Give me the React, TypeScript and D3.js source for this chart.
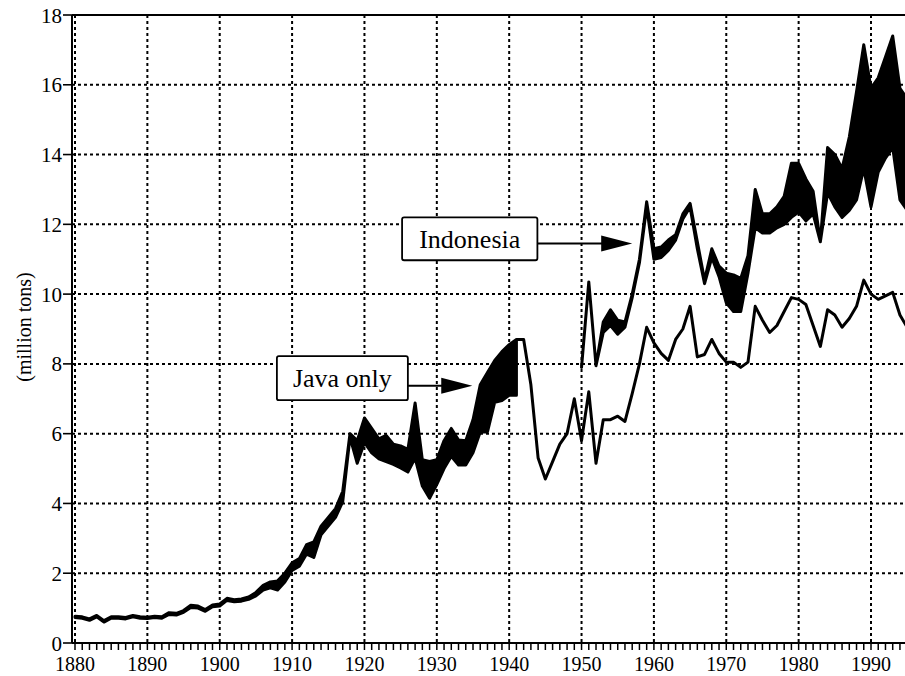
import React from "react";
import * as d3 from "d3";

// Java only: low / high estimates, 1880-1941
const javaBandStart = 1880;
const javaHigh = [
  0.77, 0.75, 0.69, 0.79, 0.64, 0.75, 0.75, 0.73, 0.79, 0.75,
  0.74, 0.77, 0.75, 0.87, 0.85, 0.93, 1.08, 1.06, 0.96, 1.09,
  1.12, 1.28, 1.24, 1.26, 1.32, 1.45, 1.65, 1.75, 1.78, 2.0,
  2.3, 2.42, 2.82, 2.9, 3.35, 3.6, 3.85, 4.35, 6.0, 5.8,
  6.45, 6.15, 5.85, 5.95, 5.7, 5.65, 5.55, 6.88, 5.25, 5.2,
  5.25, 5.8, 6.15, 5.82, 5.8, 6.4, 7.4, 7.75, 8.1, 8.35,
  8.55, 8.7,
];
const javaLow = [
  0.73, 0.71, 0.65, 0.75, 0.6, 0.71, 0.71, 0.69, 0.75, 0.71,
  0.7, 0.73, 0.71, 0.82, 0.8, 0.88, 1.02, 1.0, 0.91, 1.04,
  1.06, 1.22, 1.18, 1.2, 1.25, 1.35, 1.52, 1.58, 1.52, 1.75,
  2.08, 2.2, 2.55, 2.45, 3.1, 3.35, 3.6, 4.05, 5.9, 5.15,
  5.75, 5.45, 5.28, 5.2, 5.12, 5.02, 4.9, 5.3, 4.5, 4.15,
  4.55, 5.0, 5.35, 5.1, 5.1, 5.45, 6.05, 6.05, 6.9, 6.95,
  7.1, 7.1,
];

// Java only: single series, 1941-1995
const javaLineStart = 1941;
const javaLine = [
  8.7, 8.7, 7.4, 5.3, 4.7, 5.2, 5.7, 6.0, 7.0,
  5.8, 7.2, 5.15, 6.4, 6.4, 6.5, 6.35, 7.15, 8.0, 9.05,
  8.6, 8.3, 8.1, 8.7, 9.0, 9.65, 8.2, 8.27, 8.7, 8.3,
  8.05, 8.05, 7.9, 8.05, 9.65, 9.25, 8.9, 9.1, 9.5, 9.9,
  9.85, 9.7, 9.1, 8.5, 9.55, 9.4, 9.05, 9.3, 9.65, 10.4,
  10.0, 9.85, 9.95, 10.05, 9.4, 9.05,
];

// Indonesia: low / high estimates, 1950-1995
const indoStart = 1950;
const indoHigh = [
  7.9, 10.35, 7.95, 9.2, 9.55, 9.25, 9.2, 10.0, 11.0, 12.65,
  11.3, 11.35, 11.55, 11.7, 12.3, 12.6, 11.5, 10.4, 11.3, 10.8,
  10.6, 10.55, 10.45, 11.1, 13.0, 12.3, 12.3, 12.5, 12.8, 13.75,
  13.75, 13.3, 12.95, 11.5, 14.2, 14.0, 13.6, 14.5, 15.8, 17.15,
  15.9, 16.2, 16.8, 17.4, 15.9, 15.6,
];
const indoLow = [
  7.9, 10.35, 7.95, 8.9, 9.1, 8.85, 9.05, 9.9, 10.9, 12.5,
  11.0, 11.05, 11.25, 11.55, 12.15, 12.5, 11.3, 10.3, 11.05, 10.5,
  9.75, 9.5, 9.5, 10.6, 11.9, 11.75, 11.75, 11.9, 12.0, 12.2,
  12.35, 12.1, 12.3, 11.5, 12.9, 12.5, 12.2, 12.4, 12.7, 13.6,
  12.5, 13.5, 13.9, 14.2, 12.7, 12.4,
];

const yTicks = [0, 2, 4, 6, 8, 10, 12, 14, 16, 18];
const xTicks = [1880, 1890, 1900, 1910, 1920, 1930, 1940, 1950, 1960, 1970, 1980, 1990];
const yLabel = "(million tons)";

// label boxes in data coordinates: [year left, year right, top, bottom], arrow [year tip, value]
const notes = [
  { text: "Indonesia", x0: 1925.2, x1: 1943.9, top: 12.2, bottom: 10.97, tip: 1957.0, at: 11.45 },
  { text: "Java only", x0: 1907.9, x1: 1926.0, top: 8.22, bottom: 6.96, tip: 1934.9, at: 7.37 },
];

const W = 905;
const H = 676;
const font = "'Liberation Serif', 'Times New Roman', serif";

export default function App() {
  const x = d3.scaleLinear().domain([1880, 1990]).range([75, 871]);
  const y = d3.scaleLinear().domain([0, 18]).range([643, 15]);
  const left = 72;
  const right = W;

  const band = d3
    .area<[number, number, number]>()
    .x((d) => x(d[0]))
    .y0((d) => y(d[1]))
    .y1((d) => y(d[2]));
  const line = d3
    .line<[number, number]>()
    .x((d) => x(d[0]))
    .y((d) => y(d[1]));

  const javaBand = javaHigh.map((v, i) => [javaBandStart + i, javaLow[i], v] as [number, number, number]);
  const indoBand = indoHigh.map((v, i) => [indoStart + i, indoLow[i], v] as [number, number, number]);
  const javaPts = javaLine.map((v, i) => [javaLineStart + i, v] as [number, number]);

  const minor = d3.range(1880, 1996);
  const grid = { stroke: "#000", strokeWidth: 2, strokeDasharray: "3 3" };

  return (
    <svg
      width={W}
      height={H}
      style={{ position: "absolute", left: 0, top: 0, background: "#fff" }}
    >
      <defs>
        <clipPath id="plot">
          <rect x={left} y={0} width={right - left} height={H} />
        </clipPath>
      </defs>

      {/* grid */}
      {xTicks.map((t) => (
        <line key={"gx" + t} x1={x(t)} x2={x(t)} y1={y(18)} y2={y(0)} {...grid} />
      ))}
      {yTicks.filter((t) => t > 0 && t < 18).map((t) => (
        <line key={"gy" + t} x1={left} x2={right} y1={y(t)} y2={y(t)} {...grid} />
      ))}

      {/* data */}
      <g clipPath="url(#plot)">
        <path d={band(javaBand) || ""} fill="#000" stroke="#000" strokeWidth={3} strokeLinejoin="round" />
        <path d={line(javaPts) || ""} fill="none" stroke="#000" strokeWidth={3} strokeLinejoin="round" />
        <path d={band(indoBand) || ""} fill="#000" stroke="#000" strokeWidth={3} strokeLinejoin="round" />
      </g>

      {/* axes */}
      <line x1={left} x2={right} y1={y(18)} y2={y(18)} stroke="#000" strokeWidth={2} />
      <line x1={left} x2={left} y1={y(18)} y2={y(0)} stroke="#000" strokeWidth={2} />
      <line x1={left} x2={right} y1={y(0)} y2={y(0)} stroke="#000" strokeWidth={2} />
      {yTicks.map((t) => (
        <g key={"yt" + t}>
          <line x1={left - 9} x2={left} y1={y(t)} y2={y(t)} stroke="#000" strokeWidth={1.6} />
          <text x={left - 10} y={y(t)} dy="0.36em" textAnchor="end" fontFamily={font} fontSize={21}>
            {t}
          </text>
        </g>
      ))}
      {minor.map((t) => (
        <line key={"mt" + t} x1={x(t)} x2={x(t)} y1={y(0)} y2={y(0) + 7} stroke="#000" strokeWidth={1.5} />
      ))}
      {xTicks.map((t) => (
        <text key={"xl" + t} x={x(t)} y={671} textAnchor="middle" fontFamily={font} fontSize={20}>
          {t}
        </text>
      ))}
      <text
        transform={`translate(31,327) rotate(-90)`}
        textAnchor="middle"
        fontFamily={font}
        fontSize={20}
      >
        {yLabel}
      </text>

      {/* labels with arrows */}
      {notes.map((n) => {
        const bx = x(n.x0);
        const bw = x(n.x1) - x(n.x0);
        const by = y(n.top);
        const bh = y(n.bottom) - y(n.top);
        const ay = y(n.at);
        const tip = x(n.tip);
        return (
          <g key={n.text}>
            <line x1={bx + bw} x2={tip - 30} y1={ay} y2={ay} stroke="#000" strokeWidth={2} />
            <path d={`M${tip - 31},${ay - 8}L${tip},${ay}L${tip - 31},${ay + 8}Z`} fill="#000" />
            <rect x={bx} y={by} width={bw} height={bh} rx={2} fill="#fff" stroke="#000" strokeWidth={1.8} />
            <text
              x={bx + bw / 2}
              y={by + bh / 2}
              dy="0.34em"
              textAnchor="middle"
              fontFamily={font}
              fontSize={26}
            >
              {n.text}
            </text>
          </g>
        );
      })}
    </svg>
  );
}
